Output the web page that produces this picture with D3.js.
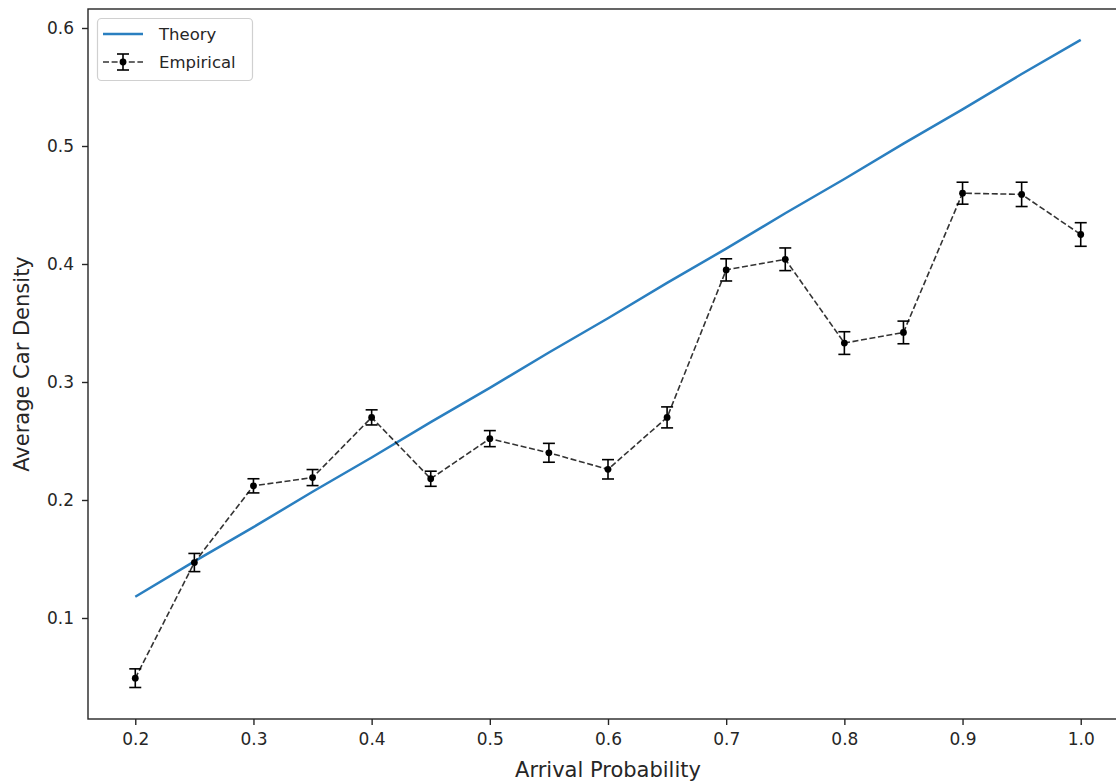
<!DOCTYPE html>
<html>
<head>
<meta charset="utf-8">
<script src="https://cdn.jsdelivr.net/npm/d3@7"></script>
<style>
  body { margin: 0; background: #fff; }
  text { font-family: "DejaVu Sans", sans-serif; fill: #262626; }
</style>
</head>
<body>
<div id="chart"></div>
<script>
// arrival probabilities
let probs = [0.2, 0.25, 0.3, 0.35, 0.4, 0.45, 0.5, 0.55, 0.6, 0.65, 0.7, 0.75, 0.8, 0.85, 0.9, 0.95, 1.0];
// theory curve
let theory = [0.118, 0.148, 0.177, 0.207, 0.236, 0.266, 0.295, 0.325, 0.354, 0.384, 0.413, 0.443, 0.472, 0.502, 0.531, 0.561, 0.590];
// empirical means and error
let empirical = [0.049, 0.147, 0.212, 0.219, 0.270, 0.218, 0.252, 0.240, 0.226, 0.270, 0.395, 0.404, 0.333, 0.342, 0.460, 0.459, 0.425];
let errors = [0.0079, 0.0077, 0.006, 0.0068, 0.0064, 0.0064, 0.0068, 0.008, 0.0082, 0.0089, 0.0094, 0.0096, 0.0096, 0.0096, 0.0093, 0.0103, 0.010];
let xTicks = [0.2, 0.3, 0.4, 0.5, 0.6, 0.7, 0.8, 0.9, 1.0];
let yTicks = [0.1, 0.2, 0.3, 0.4, 0.5, 0.6];

let width = 1116, height = 784;
let margin = {top: 9, bottom: 65, left: 88, right: -12};

let svg = d3.select('#chart')
    .append('svg')
        .attr('width', width)
        .attr('height', height);

let xScale = d3.scaleLinear()
    .domain([0.16, 1.04])
    .range([margin.left, width - margin.right]);

let yScale = d3.scaleLinear()
    .domain([0.0144, 0.6161])
    .range([height - margin.bottom, margin.top]);

let xAxis = svg.append('g')
    .attr('transform', 'translate(0,' + (height - margin.bottom) + ')')
    .call(d3.axisBottom(xScale).tickValues(xTicks).tickSize(6).tickPadding(8).tickFormat(d3.format('.1f')));

let yAxis = svg.append('g')
    .attr('transform', 'translate(' + margin.left + ',0)')
    .call(d3.axisLeft(yScale).tickValues(yTicks).tickSize(6).tickPadding(8).tickFormat(d3.format('.1f')));

[xAxis, yAxis].forEach(function(ax) {
    ax.select('.domain').remove();
    ax.selectAll('line').attr('stroke', '#262626').attr('stroke-width', 1.4);
    ax.selectAll('text').style('font-size', '17px').style('font-family', '"DejaVu Sans", sans-serif').attr('fill', '#262626');
});

// frame
svg.append('rect')
    .attr('x', margin.left)
    .attr('y', margin.top)
    .attr('width', width - margin.right - margin.left)
    .attr('height', height - margin.bottom - margin.top)
    .attr('fill', 'none')
    .attr('stroke', '#262626')
    .attr('stroke-width', 1.4);

// theory line
let line = d3.line()
    .x((d, i) => xScale(probs[i]))
    .y(d => yScale(d));

svg.append('path')
    .datum(theory)
    .attr('fill', 'none')
    .attr('stroke', '#2a7fc0')
    .attr('stroke-width', 2.5)
    .attr('d', line);

// empirical dashed line
svg.append('path')
    .datum(empirical)
    .attr('fill', 'none')
    .attr('stroke', '#000')
    .attr('stroke-opacity', 0.8)
    .attr('stroke-width', 1.6)
    .attr('stroke-dasharray', '6,2.6')
    .attr('d', line);

// error bars
let bars = svg.selectAll('.err')
    .data(empirical)
    .enter()
    .append('g')
    .attr('class', 'err');

bars.append('line')
    .attr('x1', (d, i) => xScale(probs[i]))
    .attr('x2', (d, i) => xScale(probs[i]))
    .attr('y1', (d, i) => yScale(d - errors[i]))
    .attr('y2', (d, i) => yScale(d + errors[i]))
    .attr('stroke', '#000')
    .attr('stroke-width', 1.6);

[-1, 1].forEach(function(s) {
    bars.append('line')
        .attr('x1', (d, i) => xScale(probs[i]) - 6)
        .attr('x2', (d, i) => xScale(probs[i]) + 6)
        .attr('y1', (d, i) => yScale(d + s * errors[i]))
        .attr('y2', (d, i) => yScale(d + s * errors[i]))
        .attr('stroke', '#000')
        .attr('stroke-width', 1.6);
});

bars.append('circle')
    .attr('cx', (d, i) => xScale(probs[i]))
    .attr('cy', d => yScale(d))
    .attr('r', 3.4)
    .attr('fill', '#000');

// axis labels
svg.append('text')
    .attr('x', (margin.left + xScale(1.04)) / 2)
    .attr('y', 777)
    .attr('text-anchor', 'middle')
    .style('font-size', '21px')
    .text('Arrival Probability');

svg.append('text')
    .attr('transform', 'translate(29,' + ((margin.top + height - margin.bottom) / 2) + ') rotate(-90)')
    .attr('text-anchor', 'middle')
    .style('font-size', '21px')
    .text('Average Car Density');

// legend
let legend = svg.append('g');
legend.append('rect')
    .attr('x', 97.5).attr('y', 18.5)
    .attr('width', 155).attr('height', 62)
    .attr('rx', 4)
    .attr('fill', '#fff').attr('fill-opacity', 0.8)
    .attr('stroke', '#d0d0d0').attr('stroke-width', 1.2);

legend.append('line')
    .attr('x1', 103).attr('x2', 143)
    .attr('y1', 34).attr('y2', 34)
    .attr('stroke', '#2a7fc0').attr('stroke-width', 2.5);

legend.append('line')
    .attr('x1', 103).attr('x2', 143)
    .attr('y1', 62).attr('y2', 62)
    .attr('stroke', '#000').attr('stroke-opacity', 0.8)
    .attr('stroke-width', 1.6).attr('stroke-dasharray', '6,2.6');
legend.append('line')
    .attr('x1', 123).attr('x2', 123).attr('y1', 54).attr('y2', 70)
    .attr('stroke', '#000').attr('stroke-width', 1.6);
[54, 70].forEach(function(yy) {
    legend.append('line')
        .attr('x1', 117).attr('x2', 129).attr('y1', yy).attr('y2', yy)
        .attr('stroke', '#000').attr('stroke-width', 1.6);
});
legend.append('circle').attr('cx', 123).attr('cy', 62).attr('r', 3.4).attr('fill', '#000');

legend.append('text').attr('x', 159).attr('y', 40).style('font-size', '16.5px').text('Theory');
legend.append('text').attr('x', 159).attr('y', 68).style('font-size', '16.5px').text('Empirical');
</script>
</body>
</html>
